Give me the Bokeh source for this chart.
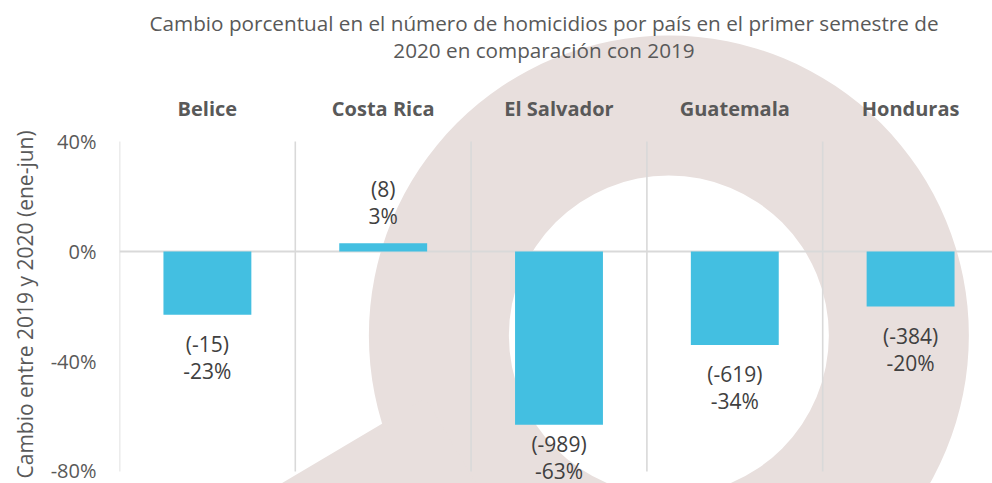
import numpy as np
from bokeh.plotting import figure
from bokeh.models import ColumnDataSource, FixedTicker, Range1d, Title
from bokeh.core.properties import value
from bokeh.embed import file_html
from bokeh.resources import INLINE

# ---------------- data ----------------
countries = ["Belice", "Costa Rica", "El Salvador", "Guatemala", "Honduras"]
pct_change = [-0.23, 0.03, -0.63, -0.34, -0.20]
abs_change = [-15, 8, -989, -619, -384]
pct_text = ["-23%", "3%", "-63%", "-34%", "-20%"]
y_ticks = [-0.8, -0.4, 0.0, 0.4]
y_tick_labels = ["-80%", "-40%", "0%", "40%"]
title_lines = ["Cambio porcentual en el número de homicidios por país en el primer semestre de",
               "2020 en comparación con 2019"]
y_label = "Cambio entre 2019 y 2020 (ene-jun)"

# ---------------- geometry (pixel scale helpers) ----------------
W, H = 992, 483
LEFT = 118              # frame left edge
PX_X = 176.0            # pixels per category
PX_Y = 275.0            # pixels per 1.0 (100 %)
FRAME_W = W - LEFT
FRAME_H = H
ZERO_PX = 251           # zero line measured from frame top

def dx(px):
    return px / PX_X

def dy(px):
    return px / PX_Y

n = len(countries)
xc = [i + 0.5 for i in range(n)]

y_top = dy(ZERO_PX)
y_bot = -dy(FRAME_H - ZERO_PX)

p = figure(width=W, height=H, output_backend="svg", toolbar_location=None,
           x_range=Range1d(0, dx(FRAME_W)), y_range=Range1d(y_bot, y_top),
           x_axis_location=None, min_border_left=LEFT, min_border_right=0,
           min_border_top=0, min_border_bottom=0)
p.outline_line_color = None
p.grid.visible = False
p.background_fill_color = "white"
p.border_fill_color = "white"

# ---------------- watermark (decorative magnifier) ----------------
wm_color = "#E8DFDD"
cx, cy = dx(550), -dy(84)
p.annulus(x=[cx], y=[cy], inner_radius=160, outer_radius=300,
          inner_radius_units="screen", outer_radius_units="screen",
          fill_color=wm_color, line_color=None)
# handle
ux, uy = -103.0, -61.0     # direction down-left (data y is up)
L = np.hypot(ux, uy)
ux, uy = ux / L, uy / L
px_, py_ = (383 - LEFT), -(422 - ZERO_PX)
A = (px_ - ux * 48, py_ - uy * 48)
B = (px_ + ux * 260, py_ + uy * 260)
nx, ny = 0.51, -0.86
C = (B[0] + nx * 160, B[1] + ny * 160)
D = (A[0] + nx * 160, A[1] + ny * 160)
hx = [dx(v[0]) for v in (A, B, C, D)]
hy = [dy(v[1]) for v in (A, B, C, D)]
p.patch(x=hx, y=hy, fill_color=wm_color, line_color=None)

# ---------------- grid lines ----------------
grid_x = list(range(n + 1))
p.segment(x0=grid_x, y0=[y_ticks[0]] * len(grid_x), x1=grid_x, y1=[y_ticks[-1]] * len(grid_x),
          line_color="#D9D9D9", line_width=1.6)
p.segment(x0=[0], y0=[0], x1=[n], y1=[0], line_color="#D9D9D9", line_width=2)

# ---------------- bars ----------------
src = ColumnDataSource(dict(x=xc, top=pct_change))
p.vbar(x="x", top="top", bottom=0, width=0.5, source=src, fill_color="#43BFE1", line_color=None)

# ---------------- data labels (two lines) ----------------
line_gap = dy(27)
floor_y = y_ticks[0] + dy(1)
l1_y, l2_y, l1_t, l2_t = [], [], [], []
for v, a, t in zip(pct_change, abs_change, pct_text):
    if v >= 0:
        y2 = v + dy(27)
    else:
        y2 = max(v - dy(56), floor_y)
    y1 = y2 + line_gap
    l1_y.append(y1)
    l2_y.append(y2)
    l1_t.append(f"({a})")
    l2_t.append(t)
for ys, ts in ((l1_y, l1_t), (l2_y, l2_t)):
    p.text(x=xc, y=ys, text=ts, text_align="center", text_baseline="middle",
           text_font=value("Open Sans"), text_font_size="21px", text_color="#404040")

# ---------------- category labels ----------------
p.text(x=xc, y=[dy(ZERO_PX - 108)] * n, text=countries, text_align="center",
       text_baseline="middle", text_font=value("Open Sans"), text_font_size="20px",
       text_font_style="bold", text_color="#595959")

# ---------------- title ----------------
p.text(x=[dx(543 - LEFT)] * 2, y=[dy(ZERO_PX - 22), dy(ZERO_PX - 49)], text=title_lines,
       text_align="center", text_baseline="middle", text_font=value("Open Sans"),
       text_font_size="20.7px", text_color="#595959")

# ---------------- y axis ----------------
ax = p.yaxis[0]
ax.ticker = FixedTicker(ticks=y_ticks)
ax.major_label_overrides = {t: l for t, l in zip(y_ticks, y_tick_labels)}
ax.axis_line_color = None
ax.major_tick_line_color = None
ax.major_tick_out = 0
ax.major_tick_in = 0
ax.minor_tick_line_color = None
ax.major_label_standoff = 23
ax.major_label_text_font = "Open Sans"
ax.major_label_text_font_size = "20px"
ax.major_label_text_color = "#595959"

# axis title: starts near the bottom of the plot, like the reference
p.add_layout(Title(text=y_label, align="left", offset=5, standoff=17,
                   text_font="Open Sans", text_font_size="21px", text_font_style="normal",
                   text_color="#595959"), "left")

open("out.html", "w").write(file_html(p, INLINE))
